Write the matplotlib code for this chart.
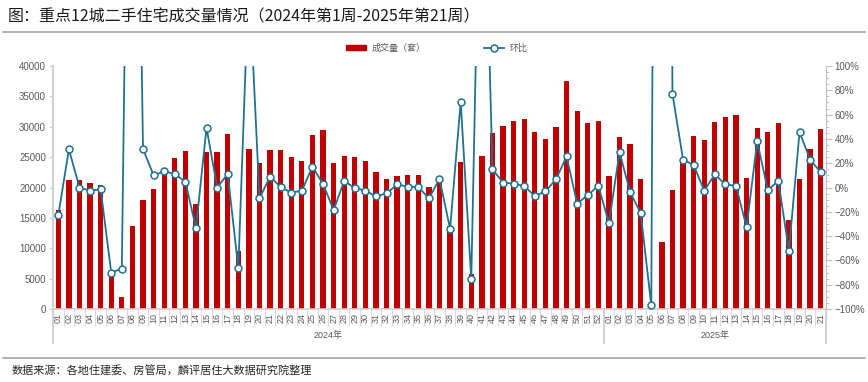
import matplotlib
matplotlib.use('Agg')
import numpy as np
import matplotlib.pyplot as plt
from matplotlib.ticker import MultipleLocator, FixedLocator, FuncFormatter
from matplotlib.lines import Line2D
from matplotlib.patches import Patch

plt.rcParams['font.family'] = ['Liberation Sans', 'Noto Sans CJK SC']

# week labels
weeks_2024 = ['%02d' % i for i in range(1, 53)]
weeks_2025 = ['%02d' % i for i in range(1, 22)]

# 成交量（套）
volume_2024 = [16300, 21300, 21300, 20800, 20400, 6100, 2000, 13700, 17950, 19750,
               22500, 24800, 25950, 17300, 25800, 25850, 28750, 9550, 26300, 24000,
               26100, 26200, 25000, 24400, 28650, 29400, 24000, 25200, 25000, 24400,
               22550, 21400, 21900, 22050, 22100, 20100, 21500, 13700, 24150, 5750,
               25250, 29000, 30100, 30950, 31300, 29100, 28000, 29950, 37500, 32600,
               30550, 31000]
volume_2025 = [21950, 28300, 27200, 21350, 600, 11050, 19600, 24150, 28550, 27800,
               30850, 31600, 32000, 21550, 29750, 29100, 30650, 14650, 21350, 26300,
               29600]

# 环比 (%)
mom_2024 = [-22.9, 31.4, 0, -2.6, -1.5, -70, -66.8, 610, 31.7, 10,
            13.3, 11.1, 4.8, -33.3, 49.2, 0, 11.1, -66.3, 175, -8.9,
            8.9, 0.4, -4.3, -2.6, 17.1, 2.9, -18.5, 5.3, -0.4, -2.6,
            -7.3, -4.8, 2.6, 0.7, 0.4, -8.9, 7, -33.9, 70.6, -75.6,
            345, 15, 4, 3.2, 1.2, -7, -3.2, 6.7, 25.6, -13.2,
            -6.3, 1.4]
mom_2025 = [-29.4, 29.1, -3.8, -21.2, -97, 1700, 77, 23, 18.4, -2.5,
            10.7, 2.5, 1.4, -32.7, 37.9, -1.9, 5.2, -52.2, 45.6, 23,
            12.6]

labels = weeks_2024 + weeks_2025
volume = volume_2024 + volume_2025
mom = mom_2024 + mom_2025
x = np.arange(len(labels))

red = '#C00000'
blue = '#24708F'
grey = '#D0D0D0'
txt = '#595959'

W, H = 868, 382
fig = plt.figure(figsize=(W / 100, H / 100), dpi=100)
ax = fig.add_axes([53 / W, 1 - 309 / H, (826 - 53) / W, 243 / H])

ax.bar(x, volume, width=0.5, color=red, zorder=2)
ax.set_xlim(-0.5, len(labels) - 0.5)
ax.set_ylim(0, 40000)
ax.yaxis.set_major_locator(MultipleLocator(5000))
ax.tick_params(axis='y', labelsize=7, colors=txt, length=3, color=grey, pad=2)

ax.set_xticks(x)
ax.set_xticklabels(labels, rotation=90, fontsize=6.5, color=txt)
ax.xaxis.set_minor_locator(FixedLocator(np.arange(-0.5, len(labels), 1.0)))
ax.tick_params(axis='x', which='major', length=0, pad=3)
ax.tick_params(axis='x', which='minor', length=12, color='#D9D9D9', width=0.8)

for s in ['top', 'right']:
    ax.spines[s].set_visible(False)
ax.spines['left'].set_color(grey)
ax.spines['left'].set_linewidth(1.6)
ax.spines['bottom'].set_color(grey)
ax.spines['bottom'].set_linewidth(1.2)

# year group separators and labels
for b in [-0.5, len(volume_2024) - 0.5, len(labels) - 0.5]:
    ax.plot([b, b], [0, -0.14], transform=ax.get_xaxis_transform(),
            color=grey, lw=1.4, clip_on=False)
ax.text((len(volume_2024) - 1) / 2, -0.11, '2024年', transform=ax.get_xaxis_transform(),
        ha='center', va='center', fontsize=6.5, color=txt)
ax.text(len(volume_2024) + (len(volume_2025) - 1) / 2, -0.11, '2025年',
        transform=ax.get_xaxis_transform(), ha='center', va='center', fontsize=6.5, color=txt)

ax2 = ax.twinx()
ax2.plot(x, mom, color=blue, lw=1.3, marker='o', ms=5, mfc='white', mec=blue, mew=1.1, zorder=3)
ax2.set_ylim(-100, 100)
ax2.yaxis.set_major_locator(MultipleLocator(20))
ax2.yaxis.set_minor_locator(MultipleLocator(5))
ax2.yaxis.set_major_formatter(FuncFormatter(lambda v, p: ('%d%%' % round(v)).replace('-', '\u2212')))
ax2.tick_params(axis='y', which='major', labelsize=7, colors=txt, length=4, color='#BFBFBF', pad=2)
ax2.tick_params(axis='y', which='minor', length=2, color='#BFBFBF')
for s in ['top', 'left', 'bottom']:
    ax2.spines[s].set_visible(False)
ax2.spines['right'].set_color('#BFBFBF')

# legend
handles = [Patch(color=red, label='成交量（套）'),
           Line2D([], [], color=blue, lw=1.3, marker='o', ms=5, mfc='white', mec=blue, mew=1.1,
                  label='环比')]
fig.legend(handles=handles, loc='center', bbox_to_anchor=(437 / W, 1 - 48 / H), ncol=2,
           frameon=False, fontsize=6.5, handlelength=2.2, handleheight=0.6,
           columnspacing=6.5, handletextpad=0.6, labelcolor=txt)

# title, rules and source
fig.text(8 / W, 1 - 17 / H, '图：重点12城二手住宅成交量情况（2024年第1周-2025年第21周）',
         fontsize=11.5, va='center', ha='left', color='#1A1A1A', family=['Noto Sans CJK SC'])
fig.add_artist(Line2D([0.004, 0.996], [1 - 32 / H] * 2, transform=fig.transFigure,
                      color='#A6A6A6', lw=1.2))
fig.add_artist(Line2D([0.004, 0.996], [1 - 358 / H] * 2, transform=fig.transFigure,
                      color='#A6A6A6', lw=1.2))
fig.text(12 / W, 1 - 370 / H, '数据来源：各地住建委、房管局，麟评居住大数据研究院整理',
         fontsize=8, va='center', ha='left', color='#262626', family=['Noto Sans CJK SC'])

fig.savefig('out.png', dpi=100)
